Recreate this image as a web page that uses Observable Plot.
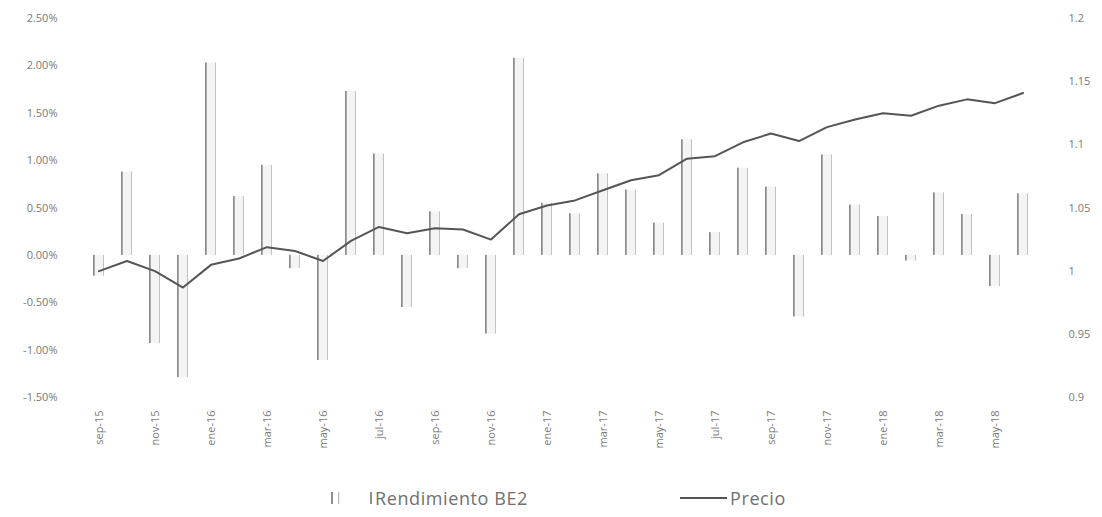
<!DOCTYPE html>
<html>
<head>
<meta charset="utf-8">
<script src="https://cdn.jsdelivr.net/npm/d3@7"></script>
<script src="https://cdn.jsdelivr.net/npm/@observablehq/plot@0.6"></script>
<style>
  html, body { margin: 0; padding: 0; background: #fff; }
  #chart svg { display: block; }
  #legend { position: relative; width: 1102px; height: 57px; font-family: "Open Sans", sans-serif; font-size: 18px; letter-spacing: 0.6px; color: #707070; }
  .item { position: absolute; top: 27px; display: flex; align-items: center; height: 22px; }
</style>
</head>
<body>
<div id="chart"></div>
<div id="legend">
  <div class="item" style="left:330px">
    <svg width="44" height="16"><rect x="1" y="2" width="2" height="12" fill="#8f8f8f"/><rect x="8" y="2" width="1.2" height="12" fill="#b8b8b8"/><rect x="40" y="2" width="2" height="12" fill="#8f8f8f"/></svg>
    <span style="margin-left:1px">Rendimiento BE2</span>
  </div>
  <div class="item" style="left:680px">
    <svg width="48" height="16"><line x1="0" y1="8" x2="47" y2="8" stroke="#555" stroke-width="2"/></svg>
    <span style="margin-left:2px">Precio</span>
  </div>
</div>
<script>
const months = ["sep-15","oct-15","nov-15","dic-15","ene-16","feb-16","mar-16","abr-16","may-16","jun-16","jul-16","ago-16","sep-16","oct-16","nov-16","dic-16","ene-17","feb-17","mar-17","abr-17","may-17","jun-17","jul-17","ago-17","sep-17","oct-17","nov-17","dic-17","ene-18","feb-18","mar-18","abr-18","may-18","jun-18"];
const rendimiento = [-0.22, 0.88, -0.93, -1.29, 2.03, 0.62, 0.95, -0.14, -1.11, 1.73, 1.07, -0.55, 0.46, -0.14, -0.83, 2.08, 0.55, 0.44, 0.86, 0.69, 0.34, 1.22, 0.24, 0.92, 0.72, -0.65, 1.06, 0.53, 0.41, -0.06, 0.66, 0.43, -0.33, 0.65];
const precio = [1.000, 1.008, 1.000, 0.987, 1.005, 1.010, 1.019, 1.016, 1.008, 1.024, 1.035, 1.030, 1.034, 1.033, 1.025, 1.045, 1.052, 1.056, 1.064, 1.072, 1.076, 1.089, 1.091, 1.102, 1.109, 1.103, 1.114, 1.120, 1.125, 1.123, 1.131, 1.136, 1.133, 1.141];
const leftTicks = [-1.5, -1.0, -0.5, 0, 0.5, 1.0, 1.5, 2.0, 2.5];
const rightTicks = [0.9, 0.95, 1, 1.05, 1.1, 1.15, 1.2];
const xTickLabels = months.filter((d, i) => i % 2 === 0);

// map the right (price) axis onto the left (percent) axis
const pctDomain = [-1.5, 2.5];
const priceDomain = [0.9, 1.2];
const toPct = d3.scaleLinear(priceDomain, pctDomain);

const data = months.map((m, i) => ({month: m, r: rendimiento[i], p: precio[i]}));

const chart = Plot.plot({
  width: 1102,
  height: 460,
  marginTop: 18,
  marginBottom: 63,
  marginLeft: 66,
  marginRight: 47,
  style: {fontFamily: "'Open Sans', sans-serif", fontSize: "11px", color: "#7a7a7a"},
  x: {type: "band", domain: months, paddingInner: 0.6, paddingOuter: 0.5, axis: null, label: null},
  y: {domain: pctDomain, axis: null, label: null},
  marks: [
    Plot.barY(data, {x: "month", y: "r", fill: "#f4f4f4"}),
    Plot.barY(data, {x: "month", y: "r", fill: "#8a8a8a", insetRight: 9.3}),
    Plot.barY(data, {x: "month", y: "r", fill: "#b5b5b5", insetLeft: 10.2}),
    Plot.lineY(data, {x: "month", y: d => toPct(d.p), stroke: "#555", strokeWidth: 2}),
    Plot.axisY(leftTicks, {anchor: "left", label: null, tickSize: 0, tickPadding: 9, tickFormat: d => d.toFixed(2) + "%", fill: "#7a7a7a"}),
    Plot.axisY(rightTicks.map(p => toPct(p)), {anchor: "right", label: null, tickSize: 0, tickPadding: 13, tickFormat: d => String(+toPct.invert(d).toFixed(2)), fill: "#7a7a7a"}),
    Plot.axisX(xTickLabels, {label: null, tickSize: 0, tickPadding: 13, tickRotate: -90, fontSize: 11, fill: "#7a7a7a"})
  ]
});
document.getElementById("chart").appendChild(chart);
</script>
</body>
</html>
